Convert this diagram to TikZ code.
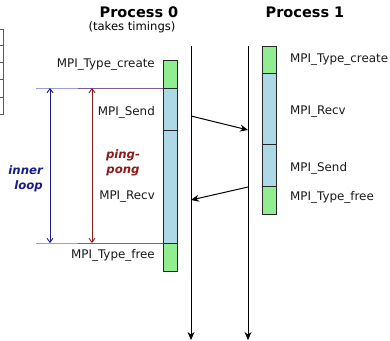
\documentclass[tikz,border=0pt]{standalone}
\usepackage{fontspec}
\setmainfont{DejaVu Sans}
\usetikzlibrary{arrows.meta}
\definecolor{callgreen}{HTML}{90EE90}
\definecolor{callblue}{HTML}{ADD8E6}
\definecolor{loopblue}{HTML}{1A1A8C}
\definecolor{pongred}{HTML}{8B1A1A}
\definecolor{loopline}{HTML}{9C9CDC}
\definecolor{pongline}{HTML}{7E5A92}
\begin{document}
\begin{tikzpicture}[x=1pt,y=-1pt,
  callbox/.style={draw=black!85, line width=0.9pt, minimum width=14pt, inner sep=0pt, outer sep=0pt},
  lbl/.style={font=\fontsize{11.9}{13}\selectfont, inner sep=0pt, text=black!90},
  proc/.style={font=\fontsize{14.5}{16}\selectfont\bfseries, inner sep=0pt},
  timeline/.style={line width=1pt, -{Stealth[length=8pt,width=7pt]}},
  msg/.style={line width=1pt, -{Stealth[length=8pt,width=7pt]}},
  loopmark/.style={line width=0.9pt},
  span/.style={line width=0.9pt, {Straight Barb[length=4pt,width=6pt]}-{Straight Barb[length=4pt,width=6pt]}},
  note/.style={font=\fontsize{11.7}{15}\selectfont\bfseries\itshape, inner sep=0pt}]
\useasboundingbox (0,0) rectangle (390,340);

% partial table at the left edge
\draw[black!65, line width=0.8pt] (0,29) -- (3,29) -- (3,114) -- (0,114)
  (0,45) -- (3,45) (0,62) -- (3,62) (0,79) -- (3,79) (0,97) -- (3,97);

% headings
\node[proc] (h0) at (139,12) {Process 0};
\node[font=\fontsize{11.6}{13}\selectfont, inner sep=0pt] (h0b) at (132,27) {(takes timings)};
\node[proc] (h1) at (305,12) {Process 1};

% time axes
\coordinate (t0top) at (191,46);
\coordinate (t0bot) at (191,340);
\coordinate (t1top) at (248,46);
\coordinate (t1bot) at (248,340);
\draw[timeline] (t0top) -- (t0bot);
\draw[timeline] (t1top) -- (t1bot);

% loop markers
\coordinate (lt) at (36,88);
\coordinate (lb) at (36,243);
\coordinate (pt) at (78,88);
\coordinate (pb) at (78,243);
\coordinate (bt) at (163,88);
\coordinate (bb) at (163,243);
\draw[loopmark, loopline] (lt) -- (bt);
\draw[loopmark, loopline] (lb) -- (bb);
\draw[loopmark, pongline] (pt) -- (bt);
\draw[loopmark, pongline] (pb) -- (bb);
\coordinate (ia) at (50,88);
\coordinate (ib) at (50,243);
\coordinate (pa) at (92,88);
\coordinate (pz) at (92,243);
\draw[span, loopblue] (ia) -- (ib);
\draw[span, pongred] (pa) -- (pz);
\node[note, text=loopblue, align=right, anchor=east] (inner) at (43,179) {inner\\loop};
\node[note, text=pongred, align=center] (pp) at (123,163) {ping-\\pong};

% process 0 calls
\node[callbox, fill=callgreen, minimum height=28pt] (c0) at (170,74) {};
\node[callbox, fill=callblue, minimum height=42pt] (s0) at (170,109) {};
\node[callbox, fill=callblue, minimum height=113pt] (r0) at (170,186.5) {};
\node[callbox, fill=callgreen, minimum height=28pt] (f0) at (170,257) {};

% process 1 calls
\node[callbox, fill=callgreen, minimum height=27pt] (c1) at (269,59.5) {};
\node[callbox, fill=callblue, minimum height=71pt] (r1) at (269,108.5) {};
\node[callbox, fill=callblue, minimum height=42pt] (s1) at (269,165) {};
\node[callbox, fill=callgreen, minimum height=28pt] (f1) at (269,200) {};

% call names
\node[lbl, anchor=east] (lc0) at (155,65) {MPI\_Type\_create};
\node[lbl, anchor=east] (ls0) at (155,112) {MPI\_Send};
\node[lbl, anchor=east] (lr0) at (155,197) {MPI\_Recv};
\node[lbl, anchor=east] (lf0) at (155,255) {MPI\_Type\_free};
\node[lbl, anchor=west] (lc1) at (290,60) {MPI\_Type\_create};
\node[lbl, anchor=west] (lr1) at (290,112) {MPI\_Recv};
\node[lbl, anchor=west] (ls1) at (290,168) {MPI\_Send};
\node[lbl, anchor=west] (lf1) at (290,197) {MPI\_Type\_free};

% messages
\coordinate (m1a) at (191,116);
\coordinate (m1b) at (248,130);
\coordinate (m2a) at (248,187);
\coordinate (m2b) at (191,200);
\draw[msg] (m1a) -- (m1b);
\draw[msg] (m2a) -- (m2b);
\end{tikzpicture}
\end{document}
